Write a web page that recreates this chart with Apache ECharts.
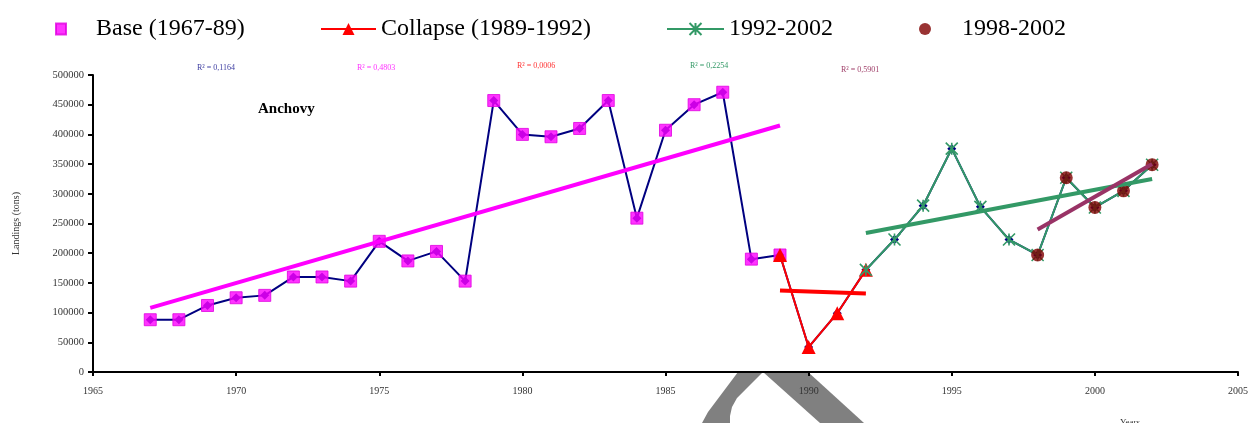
<!DOCTYPE html>
<html>
<head>
<meta charset="utf-8">
<script src="https://cdn.jsdelivr.net/npm/echarts@6/dist/echarts.min.js"></script>
<style>
html,body{margin:0;padding:0;background:#fff;}
#chart{width:1251px;height:423px;}
</style>
</head>
<body>
<div id="chart"></div>
<script>
// ---- data ----
const years = [1967,1968,1969,1970,1971,1972,1973,1974,1975,1976,1977,1978,1979,1980,1981,1982,1983,1984,1985,1986,1987,1988,1989,1990,1991,1992,1993,1994,1995,1996,1997,1998,1999,2000,2001,2002];
const landings = [88000,88000,112000,125000,129000,160000,160000,153000,220000,187000,203000,153000,457000,400000,396000,410000,457000,259000,407000,450000,471000,190000,197000,42000,99000,172000,223000,280000,376000,278000,223000,197000,327000,277000,305000,349000];

const periodBase = [1967, 1989];
const periodCollapse = [1989, 1992];
const period9202 = [1992, 2002];
const period9802 = [1998, 2002];

const trendBase = [[1967, 108000], [1989, 415000]];
const trendCollapse = [[1989, 137000], [1992, 132000]];
const trend9202 = [[1992, 234000], [2002, 325000]];
const trend9802 = [[1998, 240000], [2002, 350000]];

const seriesNames = ['Base (1967-89)', 'Collapse (1989-1992)', '1992-2002', '1998-2002'];
const r2Labels = ['R² = 0,1164', 'R² = 0,4803', 'R² = 0,0006', 'R² = 0,2254', 'R² = 0,5901'];
const yTicks = [0, 500000, 50000];
const xTicks = [1965, 2005, 5];

// ---- helpers ----
const pairs = years.map((y, i) => [y, landings[i]]);
const inPeriod = p => pairs.filter(d => d[0] >= p[0] && d[0] <= p[1]);
const FONT = "'Liberation Serif', 'Times New Roman', serif";
const STAR = 'path://M0,0L10,10M10,0L0,10M5,0L5,10';

const chart = echarts.init(document.getElementById('chart'));
const option = {
  animation: false,
  backgroundColor: '#ffffff',
  textStyle: { fontFamily: FONT },
  title: {
    text: 'Anchovy', left: 253, top: 97,
    textStyle: { fontFamily: FONT, fontSize: 15, fontWeight: 'bold', color: '#000' }
  },
  legend: [
    { data: [{ name: seriesNames[0], icon: 'rect' }], left: 50, top: 12, itemWidth: 10, itemHeight: 11,
      textStyle: { fontFamily: FONT, fontSize: 24, color: '#000', padding: [0, 0, 0, 25] } },
    { data: [seriesNames[1]], left: 315, top: 12, itemWidth: 55, itemHeight: 15,
      textStyle: { fontFamily: FONT, fontSize: 24, color: '#000', padding: [0, 0, 0, 0] } },
    { data: [seriesNames[2]], left: 661, top: 12, itemWidth: 57, itemHeight: 15,
      textStyle: { fontFamily: FONT, fontSize: 24, color: '#000', padding: [0, 0, 0, 0] } },
    { data: [{ name: seriesNames[3], icon: 'circle' }], left: 914, top: 12, itemWidth: 12, itemHeight: 12,
      textStyle: { fontFamily: FONT, fontSize: 24, color: '#000', padding: [0, 0, 0, 26] } }
  ],
  grid: { left: 93, right: 10.5, top: 75, bottom: 51, containLabel: false },
  xAxis: {
    type: 'value', min: xTicks[0], max: xTicks[1], interval: xTicks[2],
    splitLine: { show: false },
    axisLine: { show: true, lineStyle: { color: '#000', width: 2 } },
    axisTick: { show: true, length: 4, lineStyle: { color: '#000', width: 2 } },
    axisLabel: { margin: 14, fontSize: 10, color: '#333', fontFamily: FONT, formatter: v => String(v) }
  },
  yAxis: {
    type: 'value', min: yTicks[0], max: yTicks[1], interval: yTicks[2],
    name: 'Landings (tons)', nameLocation: 'middle', nameRotate: 90, nameGap: 72,
    nameTextStyle: { fontFamily: FONT, fontSize: 10, color: '#333' },
    splitLine: { show: false },
    axisLine: { show: true, lineStyle: { color: '#000', width: 2 } },
    axisTick: { show: true, length: 5, lineStyle: { color: '#000', width: 2 } },
    axisLabel: { margin: 9, fontSize: 10.5, color: '#333', fontFamily: FONT, formatter: v => String(v) }
  },
  graphic: [
    { type: 'polygon', z: -5, shape: { points: [[738,372],[763,372],[746,389],[737,398],[732,407],[730,416],[730,423],[702,423],[708,412]] }, style: { fill: '#808080' } },
    { type: 'polygon', z: -5, shape: { points: [[763,372],[808,372],[864,423],[820,423]] }, style: { fill: '#808080' } },
    { type: 'text', left: 197, top: 64, style: { text: r2Labels[0], fill: '#3c3ca0', font: "8px " + FONT } },
    { type: 'text', left: 357, top: 64, style: { text: r2Labels[1], fill: '#ff33ff', font: "8px " + FONT } },
    { type: 'text', left: 517, top: 62, style: { text: r2Labels[2], fill: '#ff3333', font: "8px " + FONT } },
    { type: 'text', left: 690, top: 62, style: { text: r2Labels[3], fill: '#339966', font: "8px " + FONT } },
    { type: 'text', left: 841, top: 66, style: { text: r2Labels[4], fill: '#a0406a', font: "8px " + FONT } },
    { type: 'text', left: 1120, top: 418, style: { text: 'Years', fill: '#333', font: "9px " + FONT } }
  ],
  series: [
    { name: 'All', type: 'line', data: pairs, z: 2,
      lineStyle: { color: '#000080', width: 2 }, itemStyle: { color: '#000080' },
      symbol: 'diamond', symbolSize: 9, showSymbol: true },
    { name: seriesNames[0], type: 'scatter', data: inPeriod(periodBase), z: 3,
      symbol: 'rect', symbolSize: 12,
      itemStyle: { color: '#ff00ff', borderColor: '#e000e0', borderWidth: 1 } },
    { name: seriesNames[1], type: 'line', data: inPeriod(periodCollapse), z: 4,
      lineStyle: { color: '#ff0000', width: 2 }, itemStyle: { color: '#ff0000' },
      symbol: 'triangle', symbolSize: 14 },
    { name: seriesNames[2], type: 'line', data: inPeriod(period9202), z: 5,
      lineStyle: { color: '#339966', width: 2 },
      itemStyle: { color: 'none', borderColor: '#339966', borderWidth: 1.6 },
      symbol: STAR, symbolSize: 12 },
    { name: seriesNames[3], type: 'scatter', data: inPeriod(period9802), z: 6,
      symbol: 'circle', symbolSize: 13, itemStyle: { color: '#800000' } },
    { name: 'trendBase', type: 'line', data: trendBase, z: 7, showSymbol: false, symbol: 'none',
      lineStyle: { color: '#ff00ff', width: 4 } },
    { name: 'trendCollapse', type: 'line', data: trendCollapse, z: 7, showSymbol: false, symbol: 'none',
      lineStyle: { color: '#ff0000', width: 4 } },
    { name: 'trend9202', type: 'line', data: trend9202, z: 7, showSymbol: false, symbol: 'none',
      lineStyle: { color: '#339966', width: 4 } },
    { name: 'trend9802', type: 'line', data: trend9802, z: 7, showSymbol: false, symbol: 'none',
      lineStyle: { color: '#993366', width: 4 } }
  ]
};
chart.setOption(option);
</script>
</body>
</html>
